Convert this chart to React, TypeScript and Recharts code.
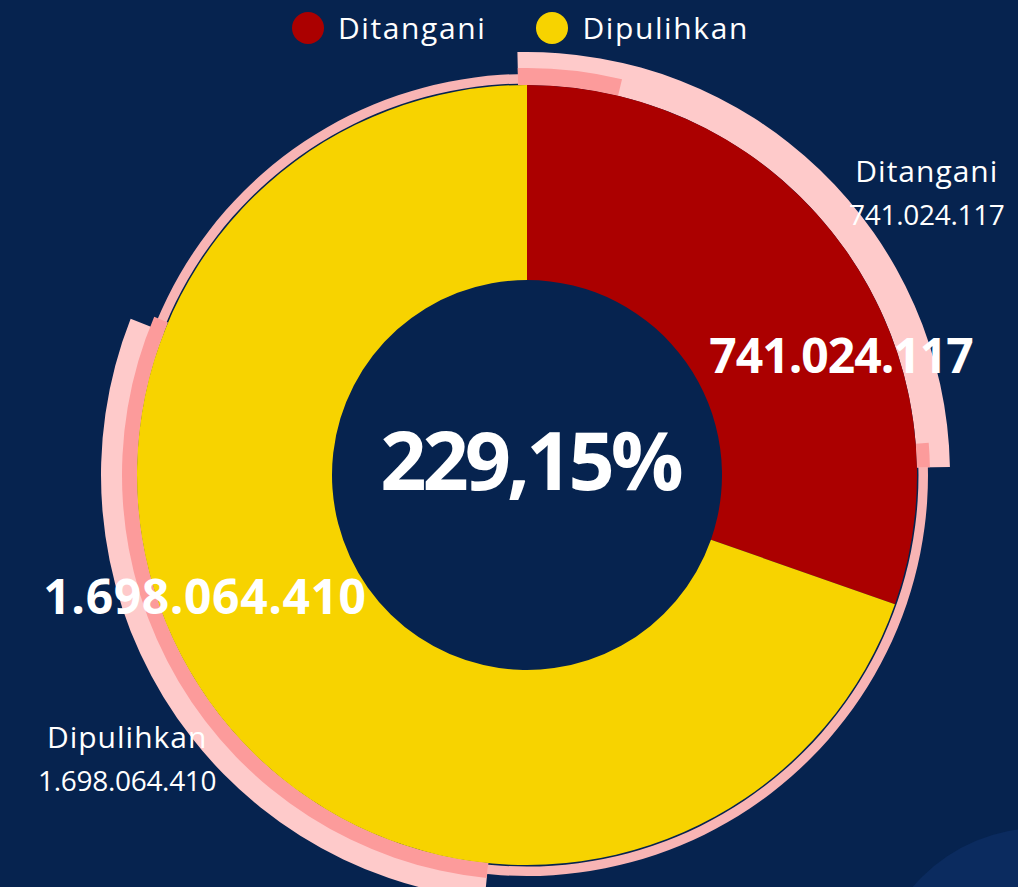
import { PieChart, Pie, Cell, Legend } from 'recharts';

const categories = ['Ditangani', 'Dipulihkan'];
const values = [741024117, 1698064410];
const colors = ['#ab0000', '#f7d300'];

const BG = '#06234f';
const FONT = '"Open Sans", sans-serif';
const CX = 527;
const CY = 475;
const RADIAN = Math.PI / 180;

const data = categories.map((name, i) => ({ name, value: values[i] }));

const fmt = (v: number) => String(v).replace(/\B(?=(\d{3})+(?!\d))/g, '.');
const ratio = ((values[1] / values[0]) * 100).toFixed(2).replace('.', ',') + '%';

// decorative pink rings drawn behind the donut
const ring = [{ value: 1 }];

const renderLabel = (props: any) => {
  const { cx, cy, midAngle, index, name, value } = props;
  const a = (midAngle - 14.6) * RADIAN;
  const bx = cx + 340 * Math.cos(a) - 4;
  const by = cy - 340 * Math.sin(a);
  const m = midAngle * RADIAN;
  const ox = cx + 490 * Math.cos(m);
  const oy = cy - 490 * Math.sin(m);
  return (
    <g>
      <text
        x={bx}
        y={by}
        textAnchor="middle"
        dominantBaseline="central"
        fill="#fff"
        fontFamily={FONT}
        fontWeight={700}
        fontSize={48}
        letterSpacing={index === 0 ? -1 : 0.6}
      >
        {fmt(value)}
      </text>
      <text x={ox} y={oy - 10} textAnchor="middle" fill="#fff" fontFamily={FONT} fontSize={30} letterSpacing={1}>
        {name}
      </text>
      <text x={ox} y={oy + 33} textAnchor="middle" fill="#fff" fontFamily={FONT} fontSize={28} letterSpacing={-0.3}>
        {fmt(value)}
      </text>
      {index === 0 && (
        <text
          x={cx + 3}
          y={cy + 15}
          textAnchor="middle"
          fill="#fff"
          fontFamily={FONT}
          fontWeight={700}
          fontSize={81}
          letterSpacing={-4}
        >
          {ratio}
        </text>
      )}
    </g>
  );
};

const renderLegend = () => (
  <div style={{ display: 'flex', alignItems: 'center', gap: 50, fontFamily: FONT, fontSize: 30, letterSpacing: 1.6, color: '#fff' }}>
    {categories.map((c, i) => (
      <div key={c} style={{ display: 'flex', alignItems: 'center', gap: 14 }}>
        <span style={{ width: 32, height: 32, borderRadius: '50%', background: colors[i], display: 'inline-block' }} />
        <span>{c}</span>
      </div>
    ))}
  </div>
);

export default function App() {
  return (
    <div style={{ position: 'fixed', left: 0, top: 0, width: 1018, height: 887, background: BG, overflow: 'hidden' }}>
      <div
        style={{
          position: 'absolute',
          left: 1040 - 167,
          top: 995 - 167,
          width: 334,
          height: 334,
          borderRadius: '50%',
          background: '#0b2b5f',
        }}
      />
      <div style={{ position: 'absolute', left: 0, top: 0 }}>
        <PieChart width={1018} height={887} margin={{ top: 0, right: 0, bottom: 0, left: 0 }}>
          <Legend content={renderLegend} wrapperStyle={{ left: 292, top: 7, width: 'auto' }} />
          {/* thin full ring */}
          <Pie data={ring} dataKey="value" cx={CX} cy={CY} innerRadius={391.5} outerRadius={401} startAngle={90} endAngle={-270} stroke="none" fill="#f8b4b4" isAnimationActive={false} />
          {/* light pink arcs */}
          <Pie data={ring} dataKey="value" cx={CX} cy={CY} innerRadius={390} outerRadius={423} startAngle={91.3} endAngle={1.1} stroke="none" fill="#fecaca" isAnimationActive={false} />
          <Pie data={ring} dataKey="value" cx={CX} cy={CY} innerRadius={390} outerRadius={426} startAngle={158.5} endAngle={264.3} stroke="none" fill="#fecaca" isAnimationActive={false} />
          {/* darker pink arcs */}
          <Pie data={ring} dataKey="value" cx={CX} cy={CY} innerRadius={390} outerRadius={407} startAngle={91.3} endAngle={76.5} stroke="none" fill="#fc9b9b" isAnimationActive={false} />
          <Pie data={ring} dataKey="value" cx={CX} cy={CY} innerRadius={390} outerRadius={403} startAngle={4.6} endAngle={1.1} stroke="none" fill="#fc9b9b" isAnimationActive={false} />
          <Pie data={ring} dataKey="value" cx={CX} cy={CY} innerRadius={390} outerRadius={405} startAngle={157} endAngle={264.3} stroke="none" fill="#fc9b9b" isAnimationActive={false} />
          {/* main donut */}
          <Pie
            data={data}
            dataKey="value"
            nameKey="name"
            cx={CX}
            cy={CY}
            innerRadius={195}
            outerRadius={390}
            startAngle={90}
            endAngle={-270}
            stroke="none"
            label={renderLabel}
            labelLine={false}
            isAnimationActive={false}
          >
            {data.map((d, i) => (
              <Cell key={d.name} fill={colors[i]} />
            ))}
          </Pie>
        </PieChart>
      </div>
    </div>
  );
}
